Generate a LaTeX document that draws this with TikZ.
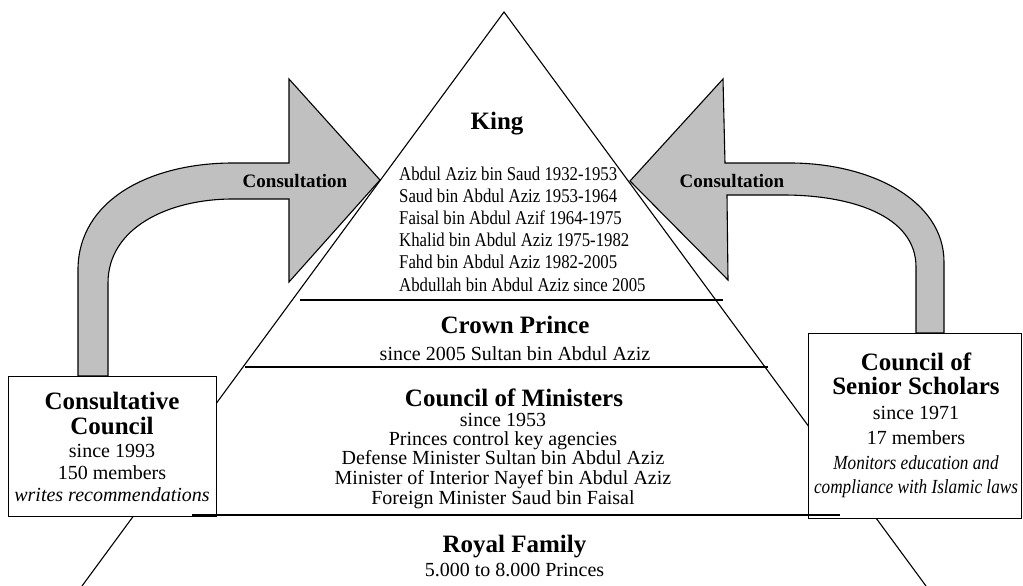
\documentclass[tikz,border=0pt]{standalone}
\usepackage{fontspec}
\setmainfont{Liberation Serif}
\newfontfamily\condfont{Liberation Serif}[FakeStretch=0.86]
\definecolor{arrowgray}{RGB}{192,192,192}
\begin{document}
\begin{tikzpicture}[x=1pt,y=-1pt,
  edge/.style={line width=1.1pt},
  box/.style={draw, line width=1.1pt, fill=white, inner sep=0pt},
  arrowshape/.style={draw, fill=arrowgray, line width=1.1pt, line join=miter},
  head/.style={font=\bfseries\fontsize{25}{25}\selectfont, inner sep=0pt, anchor=base},
  lab/.style={font=\bfseries\fontsize{19}{19}\selectfont, inner sep=0pt, anchor=base},
  body/.style={font=\fontsize{20}{20}\selectfont, inner sep=0pt, anchor=base},
  ital/.style={font=\itshape\fontsize{20}{20}\selectfont, inner sep=0pt, anchor=base},
  cital/.style={font=\condfont\itshape\fontsize{20}{20}\selectfont, inner sep=0pt, anchor=base},
  kings/.style={font=\condfont\fontsize{19.5}{22}\selectfont, inner sep=0pt, anchor=base west}]
\useasboundingbox (0,0) rectangle (1023,586);
% pyramid
\coordinate (apex) at (504,12);
\coordinate (bl) at (82,586);
\coordinate (br) at (926,586);
\draw[edge] (bl) -- (apex) -- (br);
% arrows
\draw[arrowshape] (78,376) -- (78,270) .. controls (78,200) and (150,163) .. (233,163)
  -- (289,163) -- (289,79) -- (380,180) -- (289,282) -- (289,199) -- (233,199)
  .. controls (168,199) and (108,228) .. (108,283) -- (108,376) -- cycle;
\draw[arrowshape] (944,333) -- (944,262) .. controls (944,200) and (870,163) .. (790,163)
  -- (725,163) -- (723,79) -- (630,181) -- (728,280) -- (727,195) -- (783,195)
  .. controls (850,195) and (916,215) .. (916,267) -- (916,333) -- cycle;
\node[lab] (cons1) at (295,187) {Consultation};
\node[lab] (cons2) at (732,187) {Consultation};
% side boxes
\node[box, minimum width=208pt, minimum height=140pt, anchor=north west] (ccbox) at (8,376) {};
\node[box, minimum width=213pt, minimum height=185pt, anchor=north west] (csbox) at (808,333) {};
% level lines
\coordinate (l1a) at (300,300); \coordinate (l1b) at (723,300);
\coordinate (l2a) at (245,367); \coordinate (l2b) at (768,367);
\coordinate (l3a) at (192,515); \coordinate (l3b) at (840,515);
\draw[edge] (l1a) -- (l1b);
\draw[edge] (l2a) -- (l2b);
\draw[edge] (l3a) -- (l3b);
% King
\node[head] (king) at (497,129) {King};
\node[kings] (k1) at (399,180) {Abdul Aziz bin Saud 1932-1953};
\node[kings] (k2) at (399,202) {Saud bin Abdul Aziz 1953-1964};
\node[kings] (k3) at (399,224) {Faisal bin Abdul Azif 1964-1975};
\node[kings] (k4) at (399,246) {Khalid bin Abdul Aziz 1975-1982};
\node[kings] (k5) at (399,268) {Fahd bin Abdul Aziz 1982-2005};
\node[kings] (k6) at (399,291) {Abdullah bin Abdul Aziz since 2005};
% Crown prince
\node[head] (cp) at (515,333) {Crown Prince};
\node[body] (cp1) at (515,360) {since 2005 Sultan bin Abdul Aziz};
% Council of ministers
\node[head] (com) at (514,406) {Council of Ministers};
\node[body] (com1) at (503,426) {since 1953};
\node[body] (com2) at (503,445) {Princes control key agencies};
\node[body] (com3) at (503,464.5) {Defense Minister Sultan bin Abdul Aziz};
\node[body] (com4) at (503,484) {Minister of Interior Nayef bin Abdul Aziz};
\node[body] (com5) at (503,504) {Foreign Minister Saud bin Faisal};
% Royal family
\node[head] (rf) at (514.5,552) {Royal Family};
\node[body] (rf1) at (514.5,576) {5.000 to 8.000 Princes};
% Consultative council text
\node[head] (cc1) at (112,409) {Consultative};
\node[head] (cc2) at (112,434) {Council};
\node[body] (cc3) at (112,457) {since 1993};
\node[body] (cc4) at (112,479) {150 members};
\node[ital] (cc5) at (112,501) {writes recommendations};
% Senior scholars text
\node[head] (cs1) at (916,370) {Council of};
\node[head] (cs2) at (916,394) {Senior Scholars};
\node[body] (cs3) at (916,419) {since 1971};
\node[body] (cs4) at (916,444) {17 members};
\node[cital] (cs5) at (916,469) {Monitors education and};
\node[cital] (cs6) at (916,493) {compliance with Islamic laws};
\end{tikzpicture}
\end{document}
